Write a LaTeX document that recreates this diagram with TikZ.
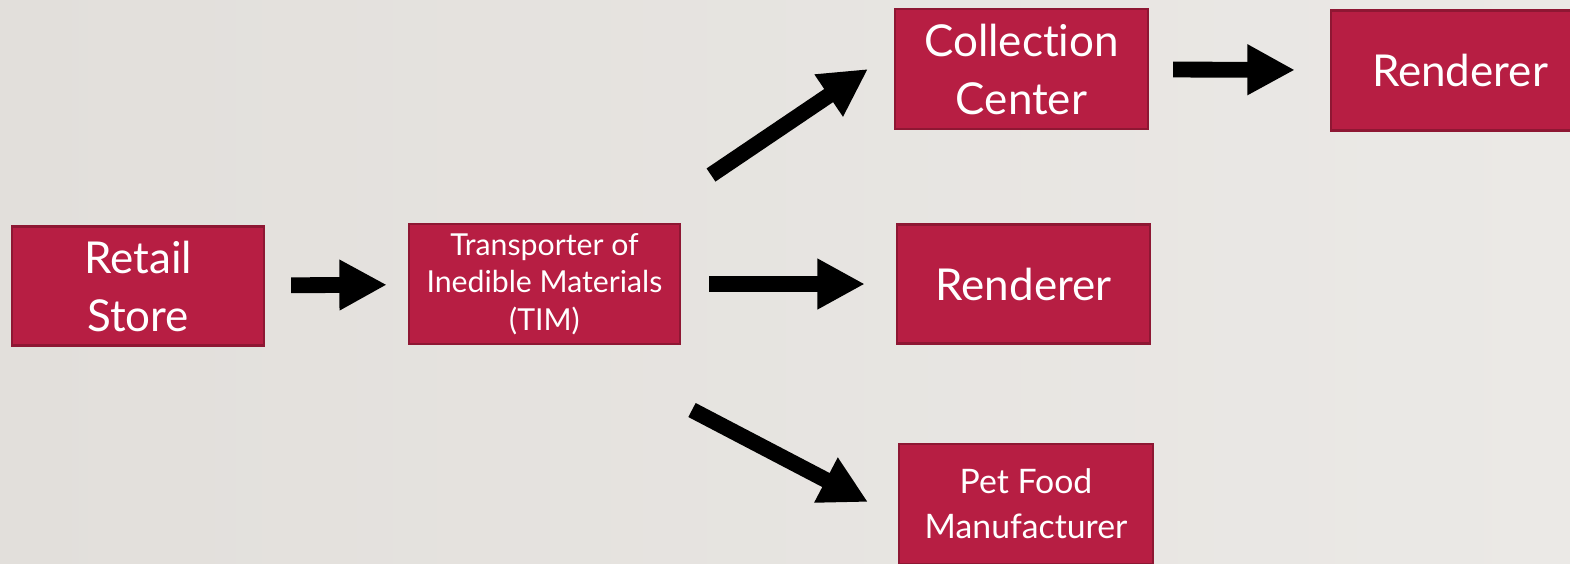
\documentclass[tikz,border=0pt]{standalone}
\usepackage{fontspec}
\setmainfont{Lato}[Ligatures=NoCommon]
\usetikzlibrary{arrows.meta, calc}
\definecolor{slideleft}{HTML}{E2DFDB}
\definecolor{slideright}{HTML}{EBE9E6}
\definecolor{boxred}{HTML}{B71E43}
\definecolor{boxedge}{HTML}{8E1733}
\tikzset{stage/.style={rectangle, draw=boxedge, line width=0.6pt, fill=boxred,
text=white, align=center, inner sep=0pt,
minimum width=2.53cm, minimum height=1.2cm, font=\bigtxt}}
\tikzset{flow/.style={-{Triangle[length=13.5pt,width=13.5pt]}, line width=4.5pt, black}}
\newcommand{\bigtxt}{\fontsize{12.5}{16.5}\selectfont}
\newcommand{\smalltxt}{\fontsize{8.6}{10.6}\selectfont}

\begin{document}
\begin{tikzpicture}[x=0.01cm, y=-0.01cm]
\useasboundingbox (0,0) rectangle (1570,563);
\clip (0,0) rectangle (1570,563);
\shade[left color=slideleft, right color=slideright] (0,0) rectangle (1570,563);

\node[stage, minimum width=2.52cm, minimum height=1.19cm] (retail) at (138, 286) {Retail\\Store};
\node[stage, minimum width=2.71cm, font=\smalltxt] (tim) at (544.5, 284) {Transporter of\\Inedible Materials\\(TIM)};
\node[stage] (cc) at (1021.5, 69) {Collection\\Center};
\node[stage, minimum width=2.58cm] (rend1) at (1460, 70.5) {Renderer};
\node[stage, minimum height=1.19cm] (rend2) at (1023.5, 284) {Renderer};
\node[stage, font=\fontsize{9.6}{12.8}\selectfont] (pet) at (1026, 504) {Pet Food\\Manufacturer};

\coordinate (up tail) at (711, 175);
\coordinate (up tip) at (868, 69);
\coordinate (down tail) at (692, 410);
\coordinate (down tip) at (868, 502);

\draw [flow, shorten <=0.26cm, shorten >=0.21cm] (retail) -- (tim);
\draw [flow, shorten <=0.28cm, shorten >=0.31cm] (tim) -- (rend2);
\draw [flow, shorten <=0.24cm, shorten >=0.35cm] (cc) -- (rend1);
\draw [flow] (up tail) -- (up tip);
\draw [flow] (down tail) -- (down tip);

\end{tikzpicture}
\end{document}
